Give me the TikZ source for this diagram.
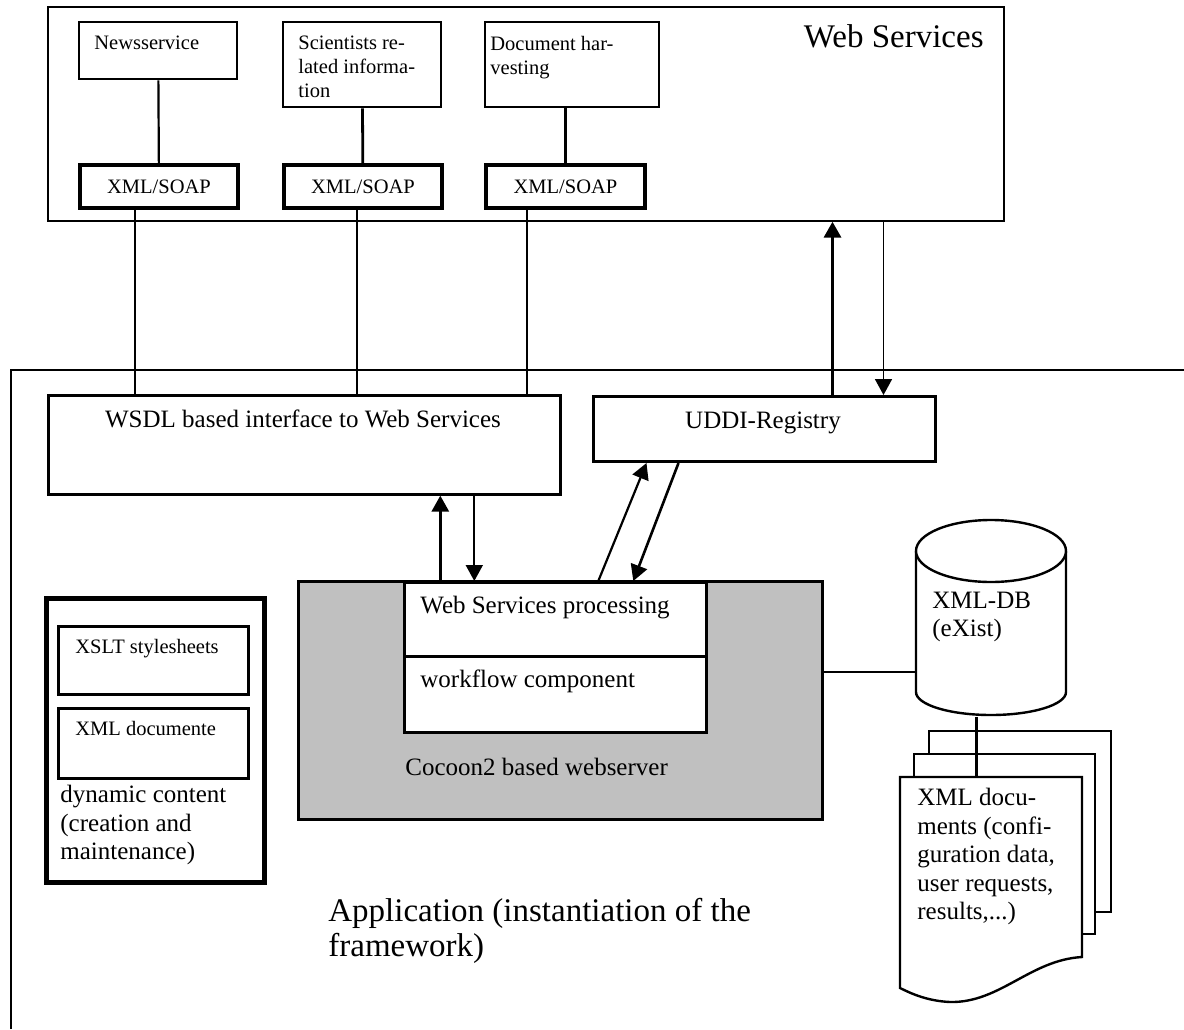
\documentclass[tikz,border=0pt]{standalone}
\usepackage{fontspec}
\setmainfont{Liberation Serif}
\usepackage{tikz}
\usetikzlibrary{arrows.meta}

\newcommand{\fsmall}{\fontsize{10.25}{12}\selectfont}
\newcommand{\fmed}{\fontsize{12.5}{14.25}\selectfont}
\newcommand{\fbig}{\fontsize{16.5}{17.5}\selectfont}
\definecolor{cocoongray}{RGB}{192,192,192}

\begin{document}
\begin{tikzpicture}[x=0.5pt,y=-0.5pt]
		\useasboundingbox (0,0) rectangle (1184,1029);

		% application frame
		\draw[line width=0.85pt] (11,1029) -- (11,370) -- (1184,370);

		\begin{scope}[every node/.style={draw,rectangle,anchor=north west,inner sep=0pt,line width=1.2pt}]
			\node[line width=0.85pt,minimum width=478pt,minimum height=107pt] (ws) at (47,6) {};
			\node[minimum width=79pt,minimum height=28.5pt] (news) at (78,21) {};
			\node[minimum width=79pt,minimum height=42.5pt] (sci) at (282,21) {};
			\node[minimum width=87pt,minimum height=42.5pt] (harv) at (484,21) {};
			\node[line width=2pt,minimum width=79pt,minimum height=21.5pt,font=\fsmall] (soap1) at (78,163) {XML/SOAP};
			\node[line width=2pt,minimum width=79pt,minimum height=21.5pt,font=\fsmall] (soap2) at (282,163) {XML/SOAP};
			\node[line width=2pt,minimum width=79.5pt,minimum height=21.5pt,font=\fsmall] (soap3) at (484,163) {XML/SOAP};
			\node[line width=1.3pt,minimum width=256pt,minimum height=49.5pt] (wsdl) at (47,394) {};
			\node[line width=1.5pt,minimum width=171pt,minimum height=32.5pt] (uddi) at (592,395) {};
			\node[line width=1.3pt,fill=cocoongray,minimum width=262pt,minimum height=119pt] (cocoon) at (297,580) {};
			\node[line width=1.3pt,fill=white,minimum width=151pt,minimum height=37pt] (wsproc) at (403,581) {};
			\node[line width=1.3pt,fill=white,minimum width=151pt,minimum height=38pt] (wflow) at (403,655) {};
			\node[line width=2.5pt,minimum width=109pt,minimum height=142pt] (dyn) at (44,596) {};
			\node[line width=1.3pt,minimum width=95pt,minimum height=34pt] (xslt) at (57,625) {};
			\node[line width=1.3pt,minimum width=95pt,minimum height=35pt] (xmld) at (57,707) {};
			\node[draw=none,minimum width=75pt,minimum height=97.5pt] (db) at (916,520) {};
			\node[draw=none,minimum width=91pt,minimum height=105.5pt] (page1) at (900,777) {};
		\end{scope}

		% document stack
		\draw[line width=1.2pt,fill=white] (929,731) rectangle (1111,912);
		\draw[line width=1.2pt,fill=white] (914,754) rectangle (1095,934);
		\draw[line width=1.2pt,fill=white] (900,777) -- (1082,777) -- (1082,957)
			.. controls (1030,960) and (1000,1003) .. (950,1002)
			.. controls (928,1001) and (912,994) .. (900,988) -- cycle;

		% database
		\draw[line width=1.2pt,fill=white] (916,551) -- (916,692) arc[start angle=180,end angle=360,x radius=37.5pt,y radius=11.5pt] -- (1066,551);
		\draw[line width=1.2pt,fill=white] (991,551) ellipse [x radius=37.5pt,y radius=15.5pt];

		\begin{scope}[every node/.style={inner sep=0pt,anchor=base west}]
			\node[font=\fbig,anchor=base east] (wstitle) at (984,47) {Web Services};
			\node[font=\fsmall] (newst) at (94,49) {Newsservice};
			\node[font=\fsmall,anchor=north west,align=left] (scit) at (298,36) {Scientists re-\\lated informa-\\tion};
			\node[font=\fsmall,anchor=north west,align=left] (harvt) at (490,36) {Document har-\\vesting};
			\node[font=\fmed,anchor=base] (wsdlt) at (303,427) {WSDL based interface to Web Services};
			\node[font=\fmed,anchor=base] (uddit) at (763,428) {UDDI-Registry};
			\node[font=\fmed] (wsproct) at (420,613) {Web Services processing};
			\node[font=\fmed] (wflowt) at (420,687) {workflow component};
			\node[font=\fmed] (cocoont) at (405,775) {Cocoon2 based webserver};
			\node[font=\fsmall] (xsltt) at (75,653) {XSLT stylesheets};
			\node[font=\fsmall] (xmldt) at (75,735) {XML documente};
			\node[font=\fmed,anchor=north west,align=left] (dynt) at (60,785) {dynamic content\\(creation and\\maintenance)};
			\node[font=\fmed,anchor=north west,align=left] (dbt) at (932,591.5) {XML-DB\\(eXist)};
			\node[font=\fmed,anchor=north west,align=left] (paget) at (917,788) {XML docu-\\ments (confi-\\guration data,\\user requests,\\results,...)};
			\node[font=\fbig,anchor=north west,align=left] (appt) at (328,897.5) {Application (instantiation of the\\framework)};
		\end{scope}

		\begin{scope}[>={Triangle[length=8pt,width=8.5pt]},
		              every edge/.style={draw=black,line width=1.1pt}]
			\path (news) edge (soap1);
			\path (sci) edge[line width=1.4pt] (soap2);
			\path (soap3.north) edge[line width=1.4pt] (soap3.north |- harv.south);
			\path ([xshift=-12pt]soap1.south) edge[line width=1.3pt] ([xshift=-12pt]soap1.south |- wsdl.north);
			\path ([xshift=-3pt]soap2.south) edge ([xshift=-3pt]soap2.south |- wsdl.north);
			\path ([xshift=-19.25pt]soap3.south) edge ([xshift=-19.25pt]soap3.south |- wsdl.north);
			\path ([xshift=34pt]uddi.north) edge[->,line width=1.7pt] ([xshift=34pt]uddi.north |- ws.south);
			\path ([xshift=59.5pt]uddi.north |- ws.south) edge[->,line width=0.9pt] ([xshift=59.5pt]uddi.north);
			\path ([xshift=68pt]wsdl.south |- wsproc.north) edge[->,line width=1.5pt] ([xshift=68pt]wsdl.south);
			\path ([xshift=85pt]wsdl.south) edge[->,line width=0.9pt] ([xshift=85pt]wsdl.south |- wsproc.north);
			\path ([xshift=21.5pt]wsproc.north) edge[->] ([xshift=-59pt]uddi.south);
			\path ([xshift=-43pt]uddi.south) edge[->,line width=1.3pt] ([xshift=39pt]wsproc.north);
			\path ([yshift=14pt]cocoon.east) edge ([yshift=14pt]cocoon.east -| db.west);
			\path ([xshift=-7.75pt]db.south) edge[line width=1.4pt] ([xshift=-7.75pt]db.south |- page1.north);
		\end{scope}
\end{tikzpicture}
\end{document}
